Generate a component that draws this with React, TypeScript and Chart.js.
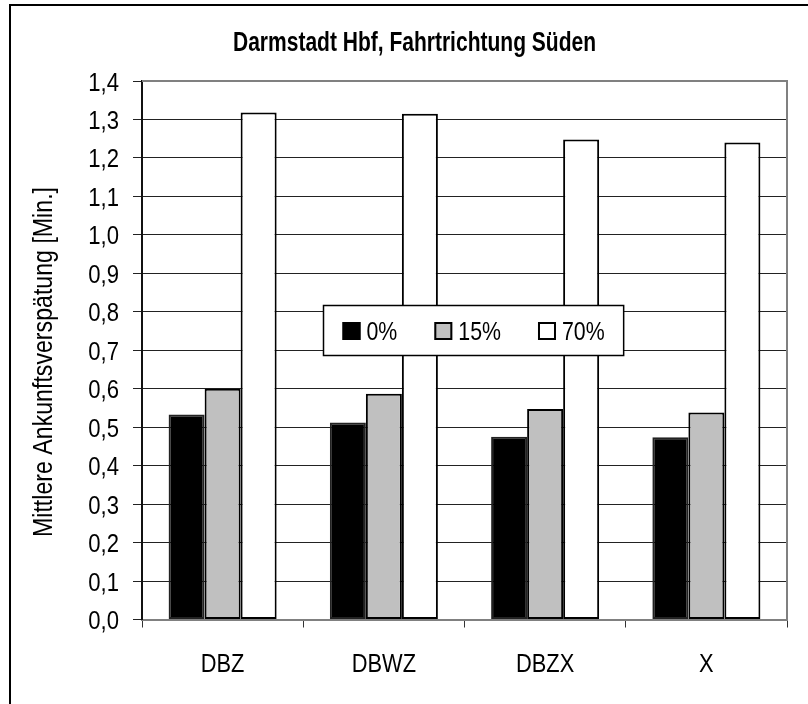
import React, { useEffect, useRef } from "react";
import { Chart, registerables } from "chart.js";

Chart.register(...registerables);

const TITLE = "Darmstadt Hbf, Fahrtrichtung Süden";
const Y_TITLE = "Mittlere Ankunftsverspätung [Min.]";
const CATEGORIES = ["DBZ", "DBWZ", "DBZX", "X"];
const SERIES_LABELS = ["0%", "15%", "70%"];
const SERIES_COLORS = ["#000000", "#c0c0c0", "#ffffff"];
const VALUES_0 = [0.533, 0.512, 0.475, 0.474];
const VALUES_15 = [0.600, 0.587, 0.547, 0.538];
const VALUES_70 = [1.318, 1.315, 1.248, 1.240];
const Y_MIN = 0;
const Y_MAX = 1.4;
const Y_STEP = 0.1;

const FONT = "'Liberation Sans', Arial, sans-serif";
const fmtY = (v: number) => Number(v).toFixed(1).replace(".", ",");

function narrowText(
  ctx: CanvasRenderingContext2D,
  text: string,
  x: number,
  y: number,
  size: number,
  sx: number,
  align: CanvasTextAlign,
  bold = false
) {
  ctx.save();
  ctx.font = `${bold ? "bold " : ""}${size}px ${FONT}`;
  ctx.translate(x, y);
  ctx.scale(sx, 1);
  ctx.textAlign = align;
  ctx.textBaseline = "alphabetic";
  ctx.fillStyle = "#000";
  ctx.fillText(text, 0, 0);
  ctx.restore();
}

const decorPlugin = {
  id: "decor",
  beforeDraw(chart: any) {
    const ctx = chart.ctx as CanvasRenderingContext2D;
    ctx.save();
    ctx.fillStyle = "#fff";
    ctx.fillRect(0, 0, chart.width, chart.height);
    // outer frame (left and top visible)
    ctx.strokeStyle = "#000";
    ctx.lineWidth = 2;
    ctx.beginPath();
    ctx.moveTo(10, chart.height + 5);
    ctx.lineTo(10, 5);
    ctx.lineTo(chart.width + 5, 5);
    ctx.stroke();
    ctx.restore();

    // title (fit to reference width)
    ctx.save();
    ctx.font = `bold 27px ${FONT}`;
    const tw = ctx.measureText(TITLE).width;
    ctx.restore();
    narrowText(ctx, TITLE, 414.5, 51, 27, 363 / tw, "center", true);

    // y axis title, rotated
    ctx.save();
    ctx.font = `27px ${FONT}`;
    const yw = ctx.measureText(Y_TITLE).width;
    ctx.translate(52, 362);
    ctx.rotate(-Math.PI / 2);
    ctx.scale(350 / yw, 1);
    ctx.textAlign = "center";
    ctx.textBaseline = "alphabetic";
    ctx.fillStyle = "#000";
    ctx.fillText(Y_TITLE, 0, 0);
    ctx.restore();
  },
  afterDraw(chart: any) {
    const ctx = chart.ctx as CanvasRenderingContext2D;
    const a = chart.chartArea;
    // tick labels drawn from the scales' ticks
    const ys = chart.scales.y;
    ys.ticks.forEach((t: any, i: number) => {
      const py = ys.getPixelForTick(i);
      narrowText(ctx, fmtY(t.value), 119, py + 9.5, 26, 0.85, "right");
    });
    const xs = chart.scales.x;
    xs.ticks.forEach((t: any, i: number) => {
      const px = xs.getPixelForTick(i);
      narrowText(ctx, String(chart.data.labels[i]), px, 672, 26, 0.84, "center");
    });

    ctx.save();
    // plot border top/right (grey)
    ctx.strokeStyle = "#808080";
    ctx.lineWidth = 2;
    ctx.beginPath();
    ctx.moveTo(a.left, a.top);
    ctx.lineTo(a.right, a.top);
    ctx.lineTo(a.right, a.bottom);
    ctx.stroke();

    // legend box
    const size = 26;
    const sx = 0.82;
    ctx.font = `${size}px ${FONT}`;
    const sq = 18;
    const gapText = 6;
    const gapItem = 37;
    const padX = 19;
    const boxTop = 305.5;
    const boxH = 50;
    const ds = chart.data.datasets;
    let total = 0;
    ds.forEach((d: any, i: number) => {
      total += sq + gapText + ctx.measureText(d.label).width * sx;
      if (i < ds.length - 1) total += gapItem;
    });
    const boxW = total + padX * 2;
    const cx = 473.5;
    const bx = Math.round(cx - boxW / 2) + 0.5;
    ctx.fillStyle = "#fff";
    ctx.fillRect(bx, boxTop, boxW, boxH);
    ctx.strokeStyle = "#000";
    ctx.lineWidth = 1.5;
    ctx.strokeRect(bx, boxTop, boxW, boxH);
    let x = bx + padX;
    const sqTop = 322;
    ds.forEach((d: any) => {
      ctx.fillStyle = d.backgroundColor;
      ctx.fillRect(x, sqTop, sq, sq);
      ctx.strokeStyle = "#000";
      ctx.lineWidth = 2;
      ctx.strokeRect(x + 1, sqTop + 1, sq - 2, sq - 2);
      x += sq + gapText;
      narrowText(ctx, d.label, x, 340, size, sx, "left");
      ctx.font = `${size}px ${FONT}`;
      x += ctx.measureText(d.label).width * sx + gapItem;
    });
    ctx.restore();
  },
};

export default function App() {
  const ref = useRef<HTMLCanvasElement>(null);
  useEffect(() => {
    if (!ref.current) return;
    const seriesValues = [VALUES_0, VALUES_15, VALUES_70];
    const chart = new Chart(ref.current, {
      type: "bar",
      data: {
        labels: CATEGORIES,
        datasets: SERIES_LABELS.map((label, i) => ({
          label,
          data: seriesValues[i],
          backgroundColor: SERIES_COLORS[i],
          borderColor: i === 0 ? "#222" : "#000",
          borderWidth: 2,
          borderSkipped: false,
          categoryPercentage: 0.67,
          barPercentage: 1.0,
        })),
      },
      options: {
        responsive: false,
        animation: false,
        devicePixelRatio: 1,
        layout: { padding: { top: 81, right: 21, bottom: 0, left: 0 } },
        plugins: {
          legend: { display: false },
          title: { display: false },
          tooltip: { enabled: false },
        },
        scales: {
          x: {
            afterFit(scale: any) {
              scale.height = 84.5;
            },
            grid: {
              display: true,
              drawOnChartArea: false,
              drawTicks: true,
              tickLength: 8,
              offset: true,
              color: "#333",
              lineWidth: 1,
            },
            border: { display: true, color: "#808080", width: 2 },
            ticks: { display: false },
          },
          y: {
            min: Y_MIN,
            max: Y_MAX,
            afterFit(scale: any) {
              scale.width = 142;
            },
            grid: {
              color: "#222",
              lineWidth: 1,
              tickLength: 9,
              drawTicks: true,
            },
            border: { display: true, color: "#111", width: 2 },
            ticks: {
              display: false,
              stepSize: Y_STEP,
              callback: (v: any) => fmtY(v),
            },
          },
        },
      },
      plugins: [decorPlugin],
    });
    return () => chart.destroy();
  }, []);
  return (
    <div style={{ position: "fixed", left: 0, top: 0, width: 808, height: 704, background: "#fff" }}>
      <canvas ref={ref} width={808} height={704} style={{ display: "block" }} />
    </div>
  );
}
